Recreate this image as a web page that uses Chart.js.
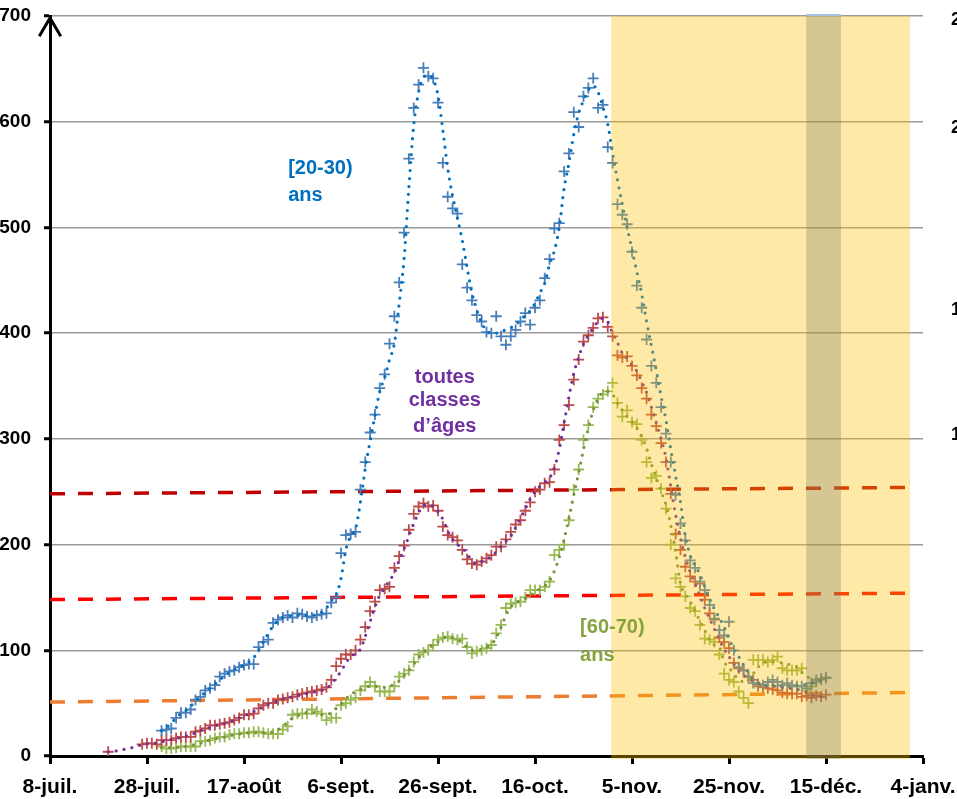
<!DOCTYPE html>
<html>
<head>
<meta charset="utf-8">
<title>Taux d'incidence par classe d'âge</title>
<script src="https://cdn.jsdelivr.net/npm/chart.js@4.4.1/dist/chart.umd.min.js"></script>
<style>
  html, body { margin: 0; padding: 0; background: #fff; overflow: hidden; }
  #wrap { width: 957px; height: 799px; }
</style>
</head>
<body>
<div id="wrap"><canvas id="chart" width="957" height="799"></canvas></div>
<script>
// x axis = days since 8 July
const xTickLabels = ['8-juil.', '28-juil.', '17-août', '6-sept.', '26-sept.', '16-oct.', '5-nov.', '25-nov.', '15-déc.', '4-janv.'];

// [20-30) ans : daily values (crosses) and smoothed curve (dots), from day 23
const youngStart = 23;
const youngDaily = [24, 25, 26, 36, 41, 41, 44, 53, 56, 62,
  64, 67, 75, 78, 80, 81, 84, 86, 87, 87,
  103, 108, 110, 126, 129, 131, 133, 131, 135, 134,
  132, 131, 133, 134, 135, 145, 150, 192, 209, 210,
  212, 252, 278, 306, 323, 348, 361, 390, 416, 448,
  495, 565, 613, 635, 651, 643, 641, 618, 561, 529,
  518, 513, 465, 443, 431, 417, 411, 401, 400, 416,
  397, 389, 397, 403, 411, 419, 408, 424, 431, 452,
  470, 499, 504, 553, 570, 609, 595, 624, 632, 641,
  613, 616, 576, 561, 522, 512, 503, 477, 445, 424,
  394, 369, 353, 330, 305, 278, 247, 220, 204, 185,
  178, 165, 157, 143, 130, 119, 114, 127, 100, 84,
  81, 75, 69, 68, 67, 70, 72, 70, 67, 69,
  67, 66, 66, 64, 69, 72, 73, 74];
const youngSmooth = [24, 27, 31, 36, 40, 43, 47, 52, 56, 60,
  64, 68, 72, 76, 79, 82, 84, 86, 89, 93,
  100, 108, 116, 123, 128, 131, 132, 133, 133, 133,
  133, 133, 134, 136, 140, 147, 152, 168, 195, 208,
  215, 240, 272, 298, 322, 345, 358, 375, 390, 428,
  470, 538, 597, 628, 642, 644, 640, 625, 592, 556,
  530, 509, 488, 462, 438, 422, 410, 402, 400, 400,
  402, 403, 405, 408, 412, 417, 421, 428, 438, 447,
  465, 478, 500, 537, 561, 588, 608, 620, 630, 634,
  628, 614, 598, 570, 545, 522, 500, 479, 458, 437,
  411, 388, 365, 340, 318, 290, 265, 240, 208, 190,
  180, 172, 160, 149, 139, 131, 122, 111, 101, 94,
  86, 79, 72, 69, 67, 67, 67, 67, 66, 66,
  66, 67, 67, 68, 69, 70, 71, 72];

// toutes classes d'âges, from day 12
const allStart = 12;
const allDaily = [4, null, null, null, null, null, null,
  11, 12, 12, 11, 15, 15, 15, 17, 18, 18,
  18, 23, 24, 26, 29, 29, 30, 31, 32, 34,
  36, 39, 39, 40, 45, 48, 50, 50, 53, 54,
  55, 56, 58, 59, 60, 61, 62, 63, 65, 72,
  85, 92, 96, 96, 100, 110, 122, 137, 146, 157,
  158, 160, 178, 189, 199, 214, 229, 236, 239, 236,
  237, 232, 217, 209, 207, 204, 195, 186, 182, 181,
  184, 187, 190, 198, 198, 205, 212, 219, 223, 232,
  240, 250, 252, 258, 259, 271, 299, 313, 332, 356,
  375, 392, 398, 405, 414, 415, 406, 397, 379, 377,
  378, 369, 360, 348, 338, 323, 312, 296, 278, 248,
  210, 195, 179, 170, 165, 163, 148, 135, 129, 112,
  108, 102, 88, 83, 81, 75, 72, 66, 65, 64,
  63, 62, 60, 59, 59, 59, 56, 57, 55, 57, 56, 58];
const allSmooth = [4, 4.5, 5, 6, 7, 8, 9.5, 10.5, 11.5, 12,
  12.5, 13.5, 14.5, 15.5, 16.5, 17.5, 19, 20, 22, 24,
  25.5, 27, 28.5, 30, 31, 32.5, 34, 36, 38, 40,
  42, 44, 47, 49, 51, 52, 54, 55, 56, 57,
  58, 59, 60, 61, 62, 64, 68, 74, 80, 88,
  94, 97, 101, 113, 127, 141, 152, 159, 166, 173,
  185, 196, 208, 220, 230, 237, 238, 236, 231, 224,
  213, 205, 200, 197, 191, 185, 182, 184, 186, 189,
  193, 198, 203, 208, 216, 225, 234, 243, 250, 255,
  259, 263, 273, 290, 315, 340, 362, 377, 390, 398,
  405, 411, 414, 411, 400, 391, 381, 376, 370, 364,
  354, 344, 330, 315, 300, 282, 255, 228, 206, 188,
  174, 163, 152, 140, 130, 120, 110, 101, 94, 87,
  81, 77, 73, 71, 69, 67, 66, 66, 66, 65,
  64, 64, 63, 62, 60, 58, 57, 56, 56];

// [60-70) ans, from day 23
const oldStart = 23;
const oldDaily = [9, 7, 7, 8, 9, 9, 9, 9, 14, 14,
  15, 17, 18, 18, 20, 21, 21, 22, 22, 23,
  23, 22, 21, 21, 21, 25, 28, 39, 40, 40,
  40, 44, 42, 40, 34, 36, 36, 48, 50, 53,
  55, 62, 66, 70, 66, 61, 61, 61, 66, 75,
  78, 81, 89, 96, 98, 100, 105, 110, 112, 113,
  111, 110, 111, 103, 97, 99, 100, 102, 105, 116,
  124, 140, 144, 145, 146, 150, 157, 157, 157, 160,
  165, 190, 195, 200, 223, 252, 271, 299, 313, 330,
  338, 342, 345, 353, 334, 321, 327, 316, 314, 299,
  278, 263, 265, 253, 234, 200, 168, 160, 151, 140,
  137, 124, 111, 110, 108, 96, 78, 72, 70, 61,
  55, 50, 91, 91, 91, 89, 91, 94, 83, 81,
  81, 81, 83, 62, 66, 70, 72, 74];
const oldSmooth = [8, 8, 8, 8, 9, 9, 10, 11, 12, 14,
  15, 16, 17, 18, 19, 20, 21, 21, 22, 22,
  22, 22, 22, 23, 25, 28, 32, 36, 38, 40,
  41, 41, 40, 39, 39, 41, 45, 49, 54, 58,
  61, 63, 65, 66, 66, 65, 65, 66, 68, 71,
  76, 81, 87, 93, 98, 102, 105, 108, 111, 113,
  112, 110, 107, 103, 100, 100, 101, 103, 105, 112,
  122, 133, 141, 145, 147, 149, 152, 155, 158, 161,
  166, 175, 188, 205, 225, 247, 268, 290, 310, 327,
  338, 344, 345, 342, 334, 327, 321, 316, 310, 302,
  291, 276, 263, 250, 238, 218, 193, 163, 153, 146,
  137, 128, 119, 110, 105, 103, 89, 84, 77, 73,
  70, 72, 78, 84, 88, 89, 89, 89, 88, 87,
  86, 84, 79, 75, 74, 73, 73, 74];

// dashed threshold lines: [day, value] at both ends
const thresholdDays = [0, 177];
const threshold250 = [248, 254];
const threshold150 = [148, 154];
const threshold50 = [51, 60];

// shaded periods (days)
const shadeFrom = 115.7, shadeTo = 177.3;
const darkFrom = 155.9, darkTo = 163.1;

// partly visible right axis labels (cut by the image edge)
const rightTickValues = [696, 594, 422, 304];
const rightTickTexts = ['2', '2', '1', '1'];

const toPoints = (start, arr) => arr.map((v, i) => ({ x: start + i, y: v }));
const linePoints = (vals) => thresholdDays.map((d, i) => ({ x: d, y: vals[i] }));

const labelFont = 'bold 20px "Liberation Sans", Arial, sans-serif';

function dotted(label, start, arr, color) {
  return {
    label, data: toPoints(start, arr), borderColor: color, borderWidth: 3.2,
    borderDash: [0, 8], borderCapStyle: 'round', pointRadius: 0,
    cubicInterpolationMode: 'monotone', fill: false, order: 1
  };
}
function crosses(label, start, arr, color) {
  return {
    label, data: toPoints(start, arr), showLine: false, pointStyle: 'cross',
    pointRadius: 5.5, pointBorderWidth: 1.8, pointBorderColor: color, borderColor: color, order: 2
  };
}
function dashed(label, vals, color) {
  return {
    label, data: linePoints(vals), borderColor: color, borderWidth: 3.5,
    borderDash: [15, 13], pointRadius: 0, fill: false, order: 3
  };
}

const decor = {
  id: 'decor',
  afterDatasetsDraw(chart) {
    const { ctx, chartArea: a, scales: { x, y } } = chart;
    ctx.save();
    // shaded periods on top of the curves
    const x0 = x.getPixelForValue(shadeFrom), x1 = x.getPixelForValue(shadeTo);
    ctx.fillStyle = 'rgba(255,192,0,0.35)';
    ctx.fillRect(x0, a.top, x1 - x0, a.bottom + 3 - a.top);
    const d0 = x.getPixelForValue(darkFrom), d1 = x.getPixelForValue(darkTo);
    ctx.fillStyle = 'rgba(120,120,100,0.3)';
    ctx.fillRect(d0, a.top, d1 - d0, a.bottom + 3 - a.top);
    ctx.fillStyle = '#a9c0de';
    ctx.fillRect(d0, a.top - 2, d1 - d0, 2);

    // series labels
    ctx.font = labelFont;
    ctx.textBaseline = 'middle';
    ctx.textAlign = 'left';
    ctx.fillStyle = '#0070C0';
    ctx.fillText('[20-30)', x.getPixelForValue(49.1), y.getPixelForValue(556));
    ctx.fillText('ans', x.getPixelForValue(49.1), y.getPixelForValue(530));
    ctx.fillStyle = '#86A33E';
    ctx.fillText('[60-70)', x.getPixelForValue(109.3), y.getPixelForValue(122));
    ctx.fillText('ans', x.getPixelForValue(109.3), y.getPixelForValue(95.5));
    ctx.textAlign = 'center';
    ctx.fillStyle = '#7030A0';
    ctx.fillText('toutes', x.getPixelForValue(81.4), y.getPixelForValue(358.5));
    ctx.fillText('classes', x.getPixelForValue(81.4), y.getPixelForValue(336));
    ctx.fillText('d’âges', x.getPixelForValue(81.4), y.getPixelForValue(312));

    // arrow head on the y axis
    ctx.strokeStyle = '#000';
    ctx.lineWidth = 3;
    ctx.lineCap = 'square';
    ctx.beginPath();
    ctx.moveTo(a.left - 10, a.top + 19);
    ctx.lineTo(a.left, a.top + 2);
    ctx.lineTo(a.left + 10, a.top + 19);
    ctx.stroke();

    // right axis labels, cut by the edge
    ctx.fillStyle = '#000';
    ctx.textAlign = 'left';
    ctx.font = 'bold 18px "Liberation Sans", Arial, sans-serif';
    rightTickValues.forEach((v, i) => {
      ctx.fillText(rightTickTexts[i], a.right + 28, y.getPixelForValue(v));
    });
    ctx.restore();
  }
};

new Chart(document.getElementById('chart'), {
  type: 'line',
  data: {
    datasets: [
      dotted('[20-30) ans', youngStart, youngSmooth, '#0070C0'),
      dotted('toutes classes d’âges', allStart, allSmooth, '#7030A0'),
      dotted('[60-70) ans', oldStart, oldSmooth, '#77933C'),
      crosses('[20-30) ans quotidien', youngStart, youngDaily, '#4A7EBB'),
      crosses('toutes classes quotidien', allStart, allDaily, '#BE4B48'),
      crosses('[60-70) ans quotidien', oldStart, oldDaily, '#98B954'),
      dashed('250', threshold250, '#C00000'),
      dashed('150', threshold150, '#FF0000'),
      dashed('50', threshold50, '#ED7D31')
    ]
  },
  options: {
    responsive: false,
    animation: false,
    devicePixelRatio: 1,
    layout: { padding: { top: 16, right: 34, left: 0, bottom: 0 } },
    plugins: { legend: { display: false }, tooltip: { enabled: false } },
    scales: {
      x: {
        type: 'linear', min: 0, max: 180,
        afterFit: (s) => { s.height = 43; s.paddingLeft = 0; s.paddingRight = 0; },
        border: { color: '#000', width: 3 },
        grid: { drawOnChartArea: false, tickLength: 8, tickColor: '#000', tickWidth: 3 },
        ticks: {
          stepSize: 20, autoSkip: false, maxRotation: 0, padding: 11, color: '#000',
          font: { family: '"Liberation Sans", Arial, sans-serif', size: 21, weight: 'bold' },
          callback: (v) => xTickLabels[v / 20]
        }
      },
      y: {
        min: 0, max: 700,
        afterFit: (s) => { s.width = 50; s.paddingTop = 0; s.paddingBottom = 0; },
        border: { color: '#000', width: 3 },
        grid: {
          color: (c) => (c.tick && c.tick.value === 0 ? 'rgba(0,0,0,0)' : '#9a9a9a'),
          lineWidth: 1.5, tickLength: 6, tickColor: '#000', tickWidth: 3
        },
        ticks: {
          stepSize: 100, padding: 13, color: '#000',
          font: { family: '"Liberation Sans", Arial, sans-serif', size: 19, weight: 'bold' }
        }
      }
    }
  },
  plugins: [decor]
});
</script>
</body>
</html>
